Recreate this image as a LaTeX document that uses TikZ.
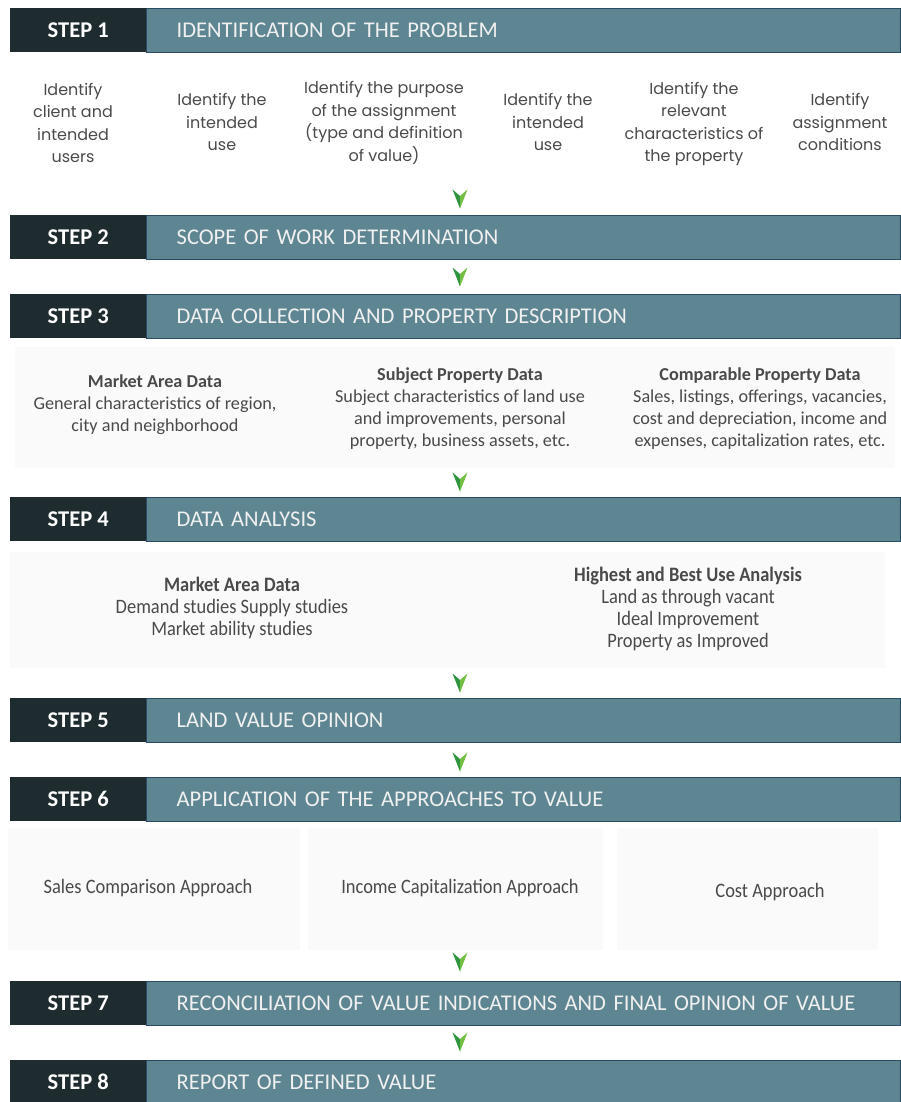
\documentclass[tikz,border=0pt]{standalone}
\usepackage{fontspec}
\setmainfont{Carlito}
\newfontfamily\gothic{Poppins}
\newfontfamily\narrow[FakeStretch=0.9]{Carlito}
\usetikzlibrary{positioning}

\definecolor{stepdark}{HTML}{1E2C30}
\definecolor{steplight}{HTML}{5E8692}
\definecolor{stepline}{HTML}{2A4A64}
\definecolor{bodygray}{HTML}{4A4A4A}
\definecolor{chevdark}{HTML}{2E9440}
\definecolor{chevlight}{HTML}{74BE43}

\tikzset{
  chev/.pic = {
    \fill[chevdark] (-7.5,-9.5) -- (0,-3) -- (0,9.5) -- cycle;
    \fill[chevlight] (7.5,-9.5) -- (0,-3) -- (0,9.5) -- cycle;
  }
}

\begin{document}
\begin{tikzpicture}[x=1pt, y=-1pt,
  stepbox/.style = {fill=stepdark, text=white, font=\bfseries\fontsize{22.5}{24}\selectfont,
    minimum width=136pt, minimum height=44pt, inner sep=0pt, anchor=west},
  titlebar/.style = {fill=steplight, draw=stepline, line width=0.6pt, text=white!94!black,
    font=\fontsize{22.5}{24}\selectfont, minimum height=44pt, text width=694pt,
    inner xsep=30pt, inner ysep=0pt, align=left},
  item/.style = {text=bodygray, align=center, font=\gothic\fontsize{16}{22.5}\selectfont, inner sep=0pt},
  data/.style = {text=bodygray, align=center, font=\fontsize{18.2}{22}\selectfont, inner sep=0pt},
  study/.style = {text=bodygray, align=center, font=\narrow\fontsize{20.5}{22}\selectfont, inner sep=0pt}]
\useasboundingbox (0,0) rectangle (900,1102);

% faint panels behind the data
\fill[black!2] (15,347) rectangle (895,468);
\fill[black!2] (10,552) rectangle (885,668);
\fill[black!2] (8,828) rectangle (300,950);
\fill[black!2] (308,828) rectangle (603,950);
\fill[black!2] (617,828) rectangle (878,950);

% step bars
\node[stepbox] (s1) at (10,30) {STEP 1};
\node[titlebar, right=0pt of s1] (t1) {IDENTIFICATION OF THE PROBLEM};
\node[stepbox] (s2) at (10,237) {STEP 2};
\node[titlebar, right=0pt of s2] (t2) {SCOPE OF WORK DETERMINATION};
\node[stepbox] (s3) at (10,316) {STEP 3};
\node[titlebar, right=0pt of s3] (t3) {DATA COLLECTION AND PROPERTY DESCRIPTION};
\node[stepbox] (s4) at (10,519) {STEP 4};
\node[titlebar, right=0pt of s4] (t4) {DATA ANALYSIS};
\node[stepbox] (s5) at (10,720) {STEP 5};
\node[titlebar, right=0pt of s5] (t5) {LAND VALUE OPINION};
\node[stepbox] (s6) at (10,799) {STEP 6};
\node[titlebar, right=0pt of s6] (t6) {APPLICATION OF THE APPROACHES TO VALUE};
\node[stepbox] (s7) at (10,1003) {STEP 7};
\node[titlebar, right=0pt of s7] (t7) {RECONCILIATION OF VALUE INDICATIONS AND FINAL OPINION OF VALUE};
\node[stepbox] (s8) at (10,1082) {STEP 8};
\node[titlebar, right=0pt of s8] (t8) {REPORT OF DEFINED VALUE};

% step 1
\node[item] (client) at (73,123) {Identify\\client and\\intended\\users};
\node[item] (use1) at (222,122) {Identify the\\intended\\use};
\node[item] (purpose) at (384,123) {Identify the purpose\\of the assignment\\(type and definition\\of value)};
\node[item] (use2) at (548,122) {Identify the\\intended\\use};
\node[item] (relevant) at (694,124) {Identify the\\relevant\\characteristics of\\the property};
\node[item] (conditions) at (840,122) {Identify\\assignment\\conditions};

% step 3
\node[data] (market) at (155,405) {\textbf{Market Area Data}\\General characteristics of region,\\city and neighborhood};
\node[data] (subject) at (460,409) {\textbf{Subject Property Data}\\Subject characteristics of land use\\and improvements, personal\\property, business assets, etc.};
\node[data] (compare) at (760,409) {\textbf{Comparable Property Data}\\Sales, listings, offerings, vacancies,\\cost and depreciation, income and\\expenses, capitalization rates, etc.};

% step 4
\node[study] (demand) at (232,608) {\textbf{Market Area Data}\\Demand studies Supply studies\\Market ability studies};
\node[study] (hbu) at (688,609) {\textbf{Highest and Best Use Analysis}\\Land as through vacant\\Ideal Improvement\\Property as Improved};

% step 6
\node[study] (sales) at (148,888) {Sales Comparison Approach};
\node[study] (income) at (460,888) {Income Capitalization Approach};
\node[study] (cost) at (770,892) {Cost Approach};

% chevrons between the steps
\pic at (460,199) {chev};
\pic at (460,277) {chev};
\pic at (460,482) {chev};
\pic at (460,683) {chev};
\pic at (460,762) {chev};
\pic at (460,962) {chev};
\pic at (460,1042) {chev};
\end{tikzpicture}
\end{document}
